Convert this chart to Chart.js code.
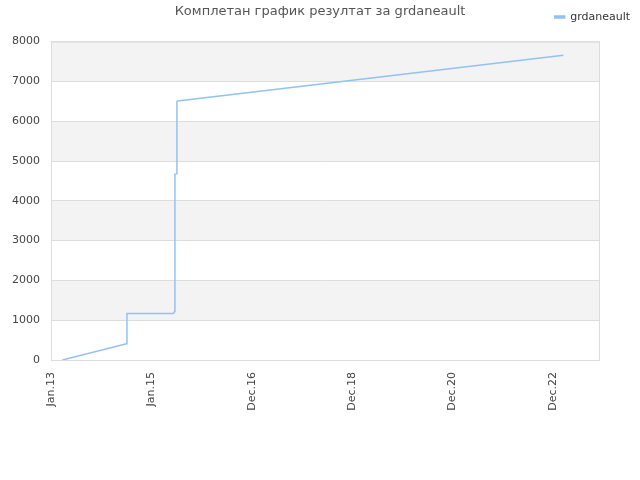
<!DOCTYPE html>
<html>
<head>
<meta charset="utf-8">
<script src="https://cdn.jsdelivr.net/npm/chart.js@4.4.1/dist/chart.umd.min.js"></script>
<style>
  html, body { margin: 0; padding: 0; background: #fff; }
  #wrap { width: 640px; height: 480px; }
</style>
</head>
<body>
<div id="wrap"><canvas id="score_chart"></canvas></div>
<script>
// x is measured in tick slots (0 = Jan.13, 1 = Jan.15, ...)
var tickPositions = [0, 1, 2, 3, 4, 5];
var tickLabels = ['Jan.13', 'Jan.15', 'Dec.16', 'Dec.18', 'Dec.20', 'Dec.22'];
var xMax = 5.471;

var scoreX = [0.113, 0.753, 0.757, 1.221, 1.231, 1.235, 1.255, 1.255, 1.261, 5.106];
var scoreY = [0, 408, 1168, 1168, 1218, 4667, 4680, 6500, 6510, 7660];

var yMax = 8000;
var yStep = 1000;

function buildPoints() {
    var pts = [];
    for (var i = 0; i < scoreX.length; i++) {
        pts.push({x: scoreX[i], y: scoreY[i]});
    }
    return pts;
}

// grey bands every other step + frame round the plot
const bandsPlugin = {
    id: 'bands',
    beforeDraw: function(chart) {
        var ctx = chart.ctx, area = chart.chartArea, y = chart.scales.y;
        ctx.save();
        ctx.fillStyle = '#f3f3f3';
        for (var v = yMax; v > 0; v -= 2 * yStep) {
            var top = y.getPixelForValue(v);
            var bottom = y.getPixelForValue(v - yStep);
            ctx.fillRect(area.left, top, area.right - area.left, bottom - top);
        }
        ctx.restore();
    },
    beforeDatasetsDraw: function(chart) {
        var ctx = chart.ctx, area = chart.chartArea;
        ctx.save();
        ctx.strokeStyle = '#dcdcdc';
        ctx.lineWidth = 1;
        ctx.strokeRect(area.left + 0.5, area.top + 0.5, area.right - area.left - 1, area.bottom - area.top);
        ctx.restore();
    }
};

// empty axes that only keep room free (gap under legend, margin on the right)
function spacer(pos, size) {
    return {
        type: 'linear',
        position: pos,
        display: true,
        grid: { display: false },
        border: { display: false },
        ticks: { display: false },
        afterFit: function(scale) {
            if (pos === 'top') scale.height = size; else scale.width = size;
        }
    };
}

function drawChart() {
    const data = {
        datasets: [{
            label: 'grdaneault',
            data: buildPoints(),
            borderColor: '#93c2f2',
            backgroundColor: '#93c2f2',
            borderWidth: 1.5,
            pointRadius: 0,
            tension: 0,
            fill: false
        }]
    };

    const config = {
        type: 'line',
        data: data,
        plugins: [bandsPlugin],
        options: {
            responsive: true,
            maintainAspectRatio: false,
            animation: false,
            layout: { padding: 0 },
            plugins: {
                title: {
                    display: true,
                    text: 'Комплетан график резултат за grdaneault',
                    color: '#555',
                    font: { family: 'DejaVu Sans', size: 13, weight: 'normal' },
                    padding: { top: 4, bottom: -18 }
                },
                legend: {
                    position: 'top',
                    align: 'end',
                    labels: {
                        boxWidth: 10,
                        boxHeight: 2,
                        color: '#333',
                        font: { family: 'DejaVu Sans', size: 11 },
                        padding: 10
                    }
                },
                tooltip: { enabled: false }
            },
            scales: {
                x: {
                    type: 'linear',
                    min: 0,
                    max: xMax,
                    grid: { display: false, drawTicks: false },
                    border: { display: false },
                    afterBuildTicks: function(scale) {
                        scale.ticks = tickPositions.map(function(v) { return {value: v}; });
                    },
                    afterFit: function(scale) { scale.height = 120; },
                    ticks: {
                        autoSkip: false,
                        minRotation: 90,
                        maxRotation: 90,
                        padding: 12,
                        color: '#444',
                        font: { family: 'DejaVu Sans', size: 11 },
                        callback: function(value, index) { return tickLabels[index]; }
                    }
                },
                y: {
                    min: 0,
                    max: yMax,
                    grid: { color: '#dddddd', drawTicks: false },
                    border: { display: false },
                    afterFit: function(scale) { scale.width = 51; },
                    ticks: {
                        stepSize: yStep,
                        padding: 11,
                        color: '#444',
                        font: { family: 'DejaVu Sans', size: 11 },
                        callback: function(value) { return String(value); }
                    }
                },
                gapTop: spacer('top', 9),
                gapRight: spacer('right', 40)
            }
        }
    };

    var myChart = new Chart(document.getElementById('score_chart'), config);
}

drawChart();
</script>
</body>
</html>
